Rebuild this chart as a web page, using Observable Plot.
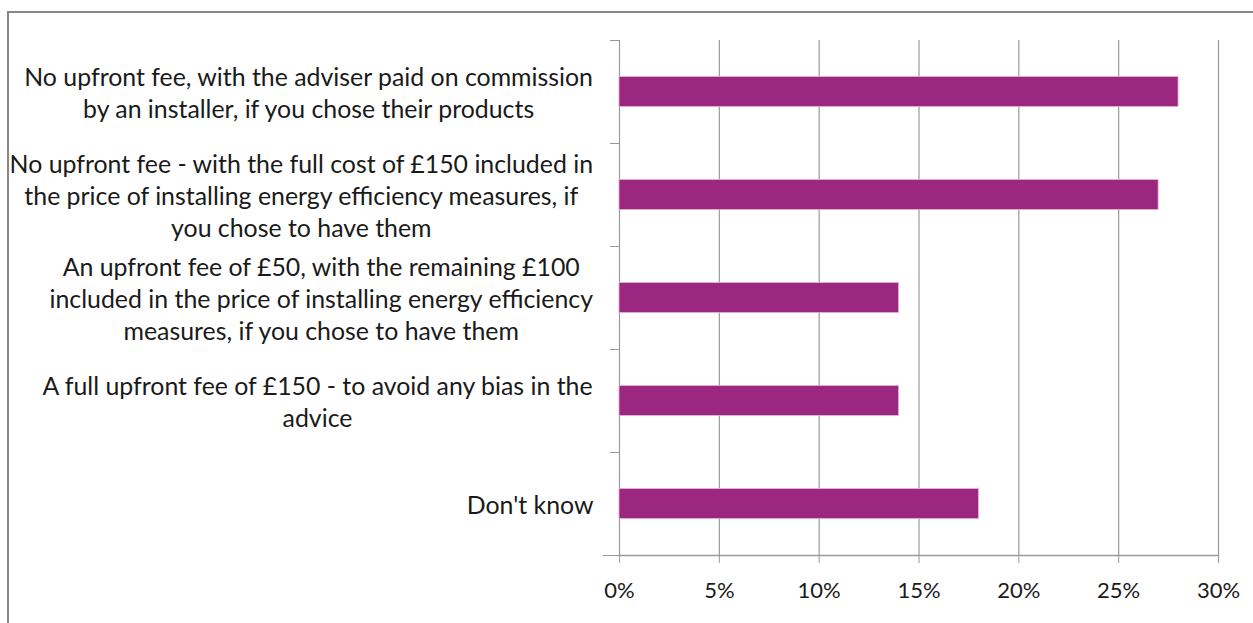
<!DOCTYPE html>
<html><head><meta charset="utf-8">
<script src="https://cdn.jsdelivr.net/npm/d3@7"></script>
<script src="https://cdn.jsdelivr.net/npm/@observablehq/plot@0.6"></script>
<style>
html,body{margin:0;padding:0;background:#fff;overflow:hidden}
#wrap{position:relative;width:1253px;height:623px}
#wrap svg{position:absolute;left:0;top:0}
#border{position:absolute;left:7px;top:11px;width:1400px;height:800px;border-left:2px solid #878787;border-top:2px solid #878787;box-sizing:border-box;z-index:2}
</style></head><body><div id="wrap"></div>
<script>
const categoryLines = [
  ["No upfront fee, with the adviser paid on commission", "by an installer, if you chose their products"],
  ["No upfront fee - with the full cost of £150 included in", "the price of installing energy efficiency measures, if", "you chose to have them"],
  ["An upfront fee of £50, with the remaining £100", "included in the price of installing energy efficiency", "measures, if you chose to have them"],
  ["A full upfront fee of £150 - to avoid any bias in the", "advice"],
  ["Don't know"]
];
const values = [28, 27, 14, 14, 18];
const xTicks = [0, 5, 10, 15, 20, 25, 30];

const categories = categoryLines.map(l => l.join("\n"));
const data = categories.map((c, i) => ({category: c, value: values[i]}));

const FONT = "Lato";
const ctx = document.createElement("canvas").getContext("2d");
ctx.font = `21px ${FONT}`;
const refW = ctx.measureText(categoryLines[0][0]).width;
const FS = 21 * 570 / refW;
ctx.font = `${FS}px ${FONT}`;
const GAP = 26;
const GRID = "#9a9a9a";
const LINE_PX = 32;

const labelMarks = categoryLines.map((lines, i) => {
  const w = Math.max(...lines.map(s => ctx.measureText(s).width));
  return Plot.text([categories[i]], {
    y: d => d, text: d => d, frameAnchor: "left", textAnchor: "middle",
    dx: -(GAP + w / 2), lineHeight: LINE_PX / FS, fontSize: FS, fill: "#1a1a1a"
  });
});

const chart = Plot.plot({
  width: 1253, height: 623,
  marginLeft: 619, marginRight: 35, marginTop: 40, marginBottom: 68,
  style: {fontFamily: FONT, fontSize: "22px", color: "#1a1a1a", background: "transparent", overflow: "visible"},
  x: {domain: [0, 30], ticks: xTicks, tickFormat: d => d + "%"},
  y: {domain: categories, padding: 0, axis: null},
  marks: [
    Plot.ruleX(xTicks, {stroke: GRID, strokeWidth: 1.2}),
    Plot.barX(data, {x: "value", y: "category", fill: "#9b2780", stroke: "#e3b3d8", strokeWidth: 0.8, insetTop: 36.5, insetBottom: 36.5}),
    Plot.axisX({ticks: xTicks, tickFormat: d => d + "%", tickSize: 8, tickPadding: 19, stroke: GRID, fontSize: 22, label: null}),
    Plot.frame({anchor: "bottom", stroke: GRID, strokeWidth: 1.5}),
    Plot.axisY({tickSize: 9, dy: -51.5, tickFormat: () => "", stroke: GRID, label: null}),
    Plot.axisY({ticks: [categories[4]], tickSize: 16, dy: 51.5, tickFormat: () => "", stroke: GRID, label: null}),
    ...labelMarks
  ]
});
const wrap = document.getElementById("wrap");
wrap.appendChild(chart);
const b = document.createElement("div"); b.id = "border"; wrap.appendChild(b);
</script></body></html>
